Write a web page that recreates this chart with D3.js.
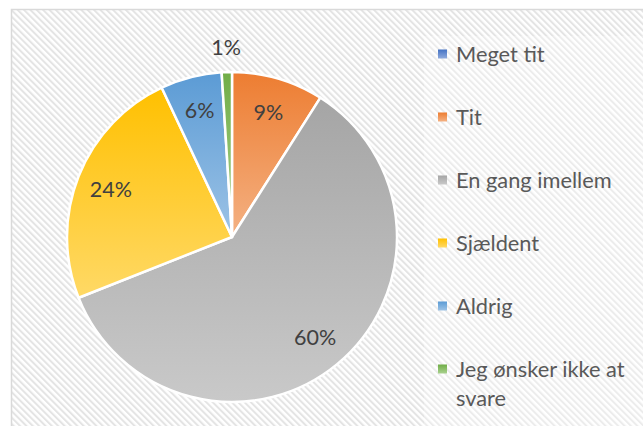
<!DOCTYPE html>
<html>
<head>
<meta charset="utf-8">
<script src="https://cdn.jsdelivr.net/npm/d3@7"></script>
<style>
  html, body { margin: 0; padding: 0; background: #ffffff; }
  svg { display: block; }
</style>
</head>
<body>
<svg id="chart" width="643" height="426"></svg>
<script>
// ---- data ----
const categories = ["Meget tit", "Tit", "En gang imellem", "Sjældent", "Aldrig", "Jeg ønsker ikke at svare"];
const values = [0, 9, 60, 24, 6, 1];
const baseColors = ["#4472C4", "#ED7D31", "#A5A5A5", "#FFC000", "#5B9BD5", "#70AD47"];
const lightColors = ["#8FAADC", "#F4B183", "#C9C9C9", "#FFD966", "#9DC3E6", "#A9D18E"];

const W = 643, H = 426;
const svg = d3.select("#chart");
const FONT = "Lato, 'Open Sans', sans-serif";

const defs = svg.append("defs");
// hatch background pattern
const pat = defs.append("pattern")
  .attr("id", "hatch").attr("patternUnits", "userSpaceOnUse")
  .attr("width", 4.5).attr("height", 4.5)
  .attr("patternTransform", "rotate(-45)");
pat.append("rect").attr("width", 4.5).attr("height", 4.5).attr("fill", "#ffffff");
pat.append("rect").attr("width", 2).attr("height", 4.5).attr("fill", "#e4e4e4");

// gradients for each category
categories.forEach((c, i) => {
  const g = defs.append("linearGradient").attr("id", "grad" + i)
    .attr("x1", 0).attr("y1", 0).attr("x2", 0).attr("y2", 1);
  g.append("stop").attr("offset", "0%").attr("stop-color", baseColors[i]);
  g.append("stop").attr("offset", "100%").attr("stop-color", lightColors[i]);
});

// chart area
svg.append("rect").attr("x", 11.5).attr("y", 9.5).attr("width", W).attr("height", H)
  .attr("fill", "url(#hatch)").attr("stroke", "#d9d9d9").attr("stroke-width", 1.5);
// legend area (slightly lighter)
svg.append("rect").attr("x", 424).attr("y", 36).attr("width", W - 424).attr("height", H - 36)
  .attr("fill", "#ffffff").attr("opacity", 0.3);

// pie
const cx = 232, cy = 237, R = 165;
const pie = d3.pie().sort(null).value(d => d.v).startAngle(0).endAngle(2 * Math.PI);
const data = categories.map((c, i) => ({ c, v: values[i], i }));
const arcs = pie(data);
const arc = d3.arc().innerRadius(0).outerRadius(R);
const labelArc = d3.arc().innerRadius(R * 0.79).outerRadius(R * 0.79);
const outArc = d3.arc().innerRadius(R * 1.15).outerRadius(R * 1.15);
const total = d3.sum(values);

const gp = svg.append("g").attr("transform", `translate(${cx},${cy})`);
gp.selectAll("path.slice").data(arcs.filter(a => a.data.v > 0)).join("path")
  .attr("class", "slice")
  .attr("d", arc)
  .attr("fill", d => `url(#grad${d.data.i})`)
  .attr("stroke", "#ffffff").attr("stroke-width", 2.5).attr("stroke-linejoin", "round");

gp.selectAll("text.lbl").data(arcs.filter(a => a.data.v > 0)).join("text")
  .attr("class", "lbl")
  .attr("transform", d => {
    const p = (d.data.v / total < 0.03) ? outArc.centroid(d) : labelArc.centroid(d);
    return `translate(${p[0]},${p[1]})`;
  })
  .attr("text-anchor", "middle").attr("dy", "0.36em")
  .attr("font-family", FONT).attr("font-size", 21.5).attr("fill", "#404040")
  .text(d => Math.round(d.data.v / total * 100) + "%");

// legend
const lx = 438, ly0 = 54, lstep = 63, maxW = 180;
const lg = svg.append("g");
categories.forEach((c, i) => {
  const y = ly0 + i * lstep;
  lg.append("rect").attr("x", lx).attr("y", y - 4.5).attr("width", 9).attr("height", 9)
    .attr("fill", `url(#grad${i})`);
  const t = lg.append("text").attr("x", lx + 18).attr("y", y + 7.5)
    .attr("font-family", FONT).attr("font-size", 21.8).attr("fill", "#595959");
  const words = c.split(" ");
  let line = [], tspan = t.append("tspan").attr("x", lx + 18).attr("dy", 0);
  words.forEach(w => {
    line.push(w);
    tspan.text(line.join(" "));
    if (tspan.node().getComputedTextLength() > maxW && line.length > 1) {
      line.pop();
      tspan.text(line.join(" "));
      line = [w];
      tspan = t.append("tspan").attr("x", lx + 18).attr("dy", 29).text(w);
    }
  });
});
</script>
</body>
</html>
